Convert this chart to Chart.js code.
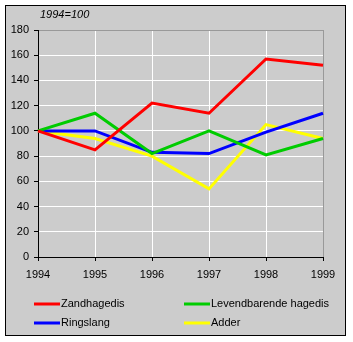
<!DOCTYPE html>
<html>
<head>
<meta charset="utf-8">
<script src="https://cdn.jsdelivr.net/npm/chart.js@4/dist/chart.umd.min.js"></script>
<style>
  html, body { margin: 0; padding: 0; background: #fff; }
  #wrap { width: 353px; height: 342px; }
</style>
</head>
<body>
<div id="wrap"><canvas id="chart" width="353" height="342"></canvas></div>
<script>
// Data
const years = ['1994', '1995', '1996', '1997', '1998', '1999'];
const zandhagedis = [100, 85, 122, 114, 157, 152];
const levendbarende = [100, 114, 82, 100, 81, 94];
const ringslang = [100, 100, 83, 82, 99, 114];
const adder = [100, 94, 80, 54, 105, 94];
const seriesNames = ['Zandhagedis', 'Levendbarende hagedis', 'Ringslang', 'Adder'];
const seriesColors = ['#ff0000', '#00cc00', '#0000ff', '#ffff00'];

const FONT = "Arial, 'Liberation Sans', sans-serif";

// Frame, background, subtitle and legend
const decor = {
    id: 'decor',
    beforeDraw(chart) {
        const ctx = chart.ctx;
        ctx.save();
        ctx.fillStyle = '#fff';
        ctx.fillRect(0, 0, chart.width, chart.height);
        ctx.fillStyle = '#cccccc';
        ctx.fillRect(5, 5, 341, 331);
        ctx.strokeStyle = '#000';
        ctx.lineWidth = 1;
        ctx.strokeRect(5.5, 5.5, 340, 330);
        ctx.restore();
    },
    afterDraw(chart) {
        const ctx = chart.ctx;
        ctx.save();
        ctx.fillStyle = '#000';
        ctx.font = 'italic 11px ' + FONT;
        ctx.textBaseline = 'middle';
        ctx.fillText('1994=100', 40, 15);

        // legend, two columns
        ctx.font = '11px ' + FONT;
        const cols = [34, 184];
        const rows = [304, 323];
        chart.data.datasets.forEach((ds, i) => {
            const x = cols[i % 2];
            const y = rows[Math.floor(i / 2)];
            ctx.strokeStyle = ds.borderColor;
            ctx.lineWidth = 3;
            ctx.beginPath();
            ctx.moveTo(x, y);
            ctx.lineTo(x + 26, y);
            ctx.stroke();
            ctx.fillStyle = '#000';
            ctx.fillText(ds.label, x + 27, y);
        });
        ctx.restore();
    }
};

const datasets = [zandhagedis, levendbarende, ringslang, adder].map((vals, i) => ({
    label: seriesNames[i],
    data: vals,
    borderColor: seriesColors[i],
    backgroundColor: seriesColors[i],
    borderWidth: 3,
    pointRadius: 0,
    tension: 0,
    fill: false
}));

new Chart(document.getElementById('chart'), {
    type: 'line',
    data: { labels: years, datasets },
    plugins: [decor],
    options: {
        responsive: false,
        animation: false,
        layout: { padding: { left: 0, top: 30, right: 30, bottom: 0 } },
        plugins: {
            legend: { display: false },
            tooltip: { enabled: false }
        },
        scales: {
            x: {
                offset: false,
                afterFit(scale) { scale.height = 85; },
                grid: {
                    color: c => (c.index === years.length - 1 ? '#999999' : '#ffffff'),
                    lineWidth: 1,
                    tickColor: '#000',
                    tickLength: 4
                },
                border: { color: '#000', width: 1 },
                ticks: {
                    color: '#000',
                    font: { family: FONT, size: 11 },
                    padding: 7,
                    maxRotation: 0
                }
            },
            y: {
                min: 0,
                max: 180,
                afterFit(scale) { scale.width = 38; },
                grid: {
                    color: c => (c.tick && c.tick.value === 180 ? '#999999' : '#ffffff'),
                    lineWidth: 1,
                    tickColor: '#000',
                    tickLength: 4
                },
                border: { color: '#000', width: 1 },
                ticks: {
                    stepSize: 20,
                    color: '#000',
                    font: { family: FONT, size: 11 },
                    padding: 5
                }
            }
        }
    }
});
</script>
</body>
</html>
